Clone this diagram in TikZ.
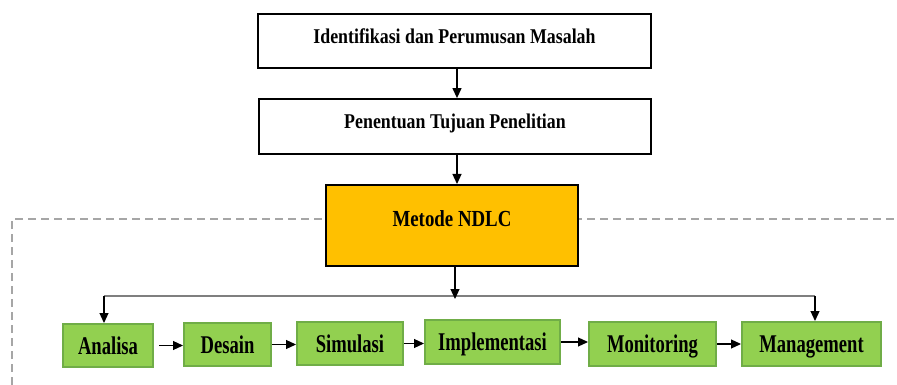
\documentclass[tikz,border=0pt]{standalone}
\usepackage{fontspec}
\setmainfont{Liberation Serif}
\newfontfamily\topfont[FakeStretch=0.85]{Liberation Serif}
\newfontfamily\midfont[FakeStretch=0.82]{Liberation Serif}
\newfontfamily\grnfont[FakeStretch=0.73]{Liberation Serif}
\usetikzlibrary{arrows.meta}
\definecolor{grnfill}{HTML}{92D050}
\definecolor{grnline}{HTML}{70AD47}
\definecolor{orng}{HTML}{FFC000}
\definecolor{dashgray}{HTML}{A6A6A6}
\definecolor{linegray}{HTML}{7F7F7F}
\tikzset{
  topbox/.style={draw=black, line width=1.8pt, fill=white, rectangle, inner sep=0pt,
    font=\topfont\bfseries\fontsize{21}{24}\selectfont, text height=14pt, text depth=9pt},
  midbox/.style={draw=black, line width=2pt, fill=orng, rectangle, inner sep=0pt,
    font=\midfont\bfseries\fontsize{23}{26}\selectfont, text height=15pt, text depth=13pt},
  grnbox/.style={draw=grnline, line width=2pt, fill=grnfill, rectangle, inner sep=0pt,
    font=\grnfont\bfseries\fontsize{25.5}{28}\selectfont, text height=17pt, text depth=0pt},
  arr/.style={draw=black, line width=1.2pt, -{Triangle[length=10pt,width=9pt]}},
  frame/.style={draw=dashgray, line width=1.6pt, dash pattern=on 8pt off 5pt},
}
\begin{document}
\begin{tikzpicture}[x=1pt,y=-1pt]
\useasboundingbox (0,0) rectangle (897,385);
% dashed frame
\coordinate (fb) at (12,385);
\coordinate (fc) at (12,219);
\coordinate (fr) at (897,219);
\draw[frame] (fb) -- (fc) -- (fr);
% top boxes
\node[topbox, minimum width=393pt, minimum height=54pt] (idm) at (454.5,41) {Identifikasi dan Perumusan Masalah};
\node[topbox, minimum width=392pt, minimum height=55pt] (ptp) at (455,126.5) {Penentuan Tujuan Penelitian};
\node[midbox, minimum width=252pt, minimum height=81pt] (ndlc) at (452,225.5) {Metode NDLC};
% green boxes
\node[grnbox, minimum width=90pt, minimum height=43pt] (ana) at (108,345.5) {Analisa};
\node[grnbox, minimum width=87pt, minimum height=43pt] (des) at (227.5,344.5) {Desain};
\node[grnbox, minimum width=106pt, minimum height=43pt] (sim) at (350,343.5) {Simulasi};
\node[grnbox, minimum width=135pt, minimum height=44pt] (imp) at (492.5,342) {Implementasi};
\node[grnbox, minimum width=127pt, minimum height=44pt] (mon) at (652.5,344) {Monitoring};
\node[grnbox, minimum width=139pt, minimum height=44pt] (man) at (811.5,344) {Management};
% vertical arrows
\draw[arr] (457,68) coordinate (a1) -- (a1 |- ptp.north);
\draw[arr] (457,154) coordinate (a2) -- (a2 |- ndlc.north);
% split
\coordinate (sp) at (455,296);
\coordinate (sl) at (104,296);
\coordinate (sr) at (815,296);
\draw[line width=1.4pt, draw=linegray] (sl) -- (sr);
\draw[arr] (sp |- ndlc.south) -- ([yshift=-3pt]sp);
\draw[arr] (sl) -- (sl |- ana.north);
\draw[arr] (sr) -- (sr |- man.north);
% chain
\draw[arr, shorten <=5pt] (ana.east) -- (ana.east -| des.west);
\draw[arr] (des.east) -- (des.east -| sim.west);
\draw[arr] (sim.east) -- (sim.east -| imp.west);
\draw[arr] (imp.east) -- (imp.east -| mon.west);
\draw[arr] (mon.east) -- (mon.east -| man.west);
\end{tikzpicture}
\end{document}
